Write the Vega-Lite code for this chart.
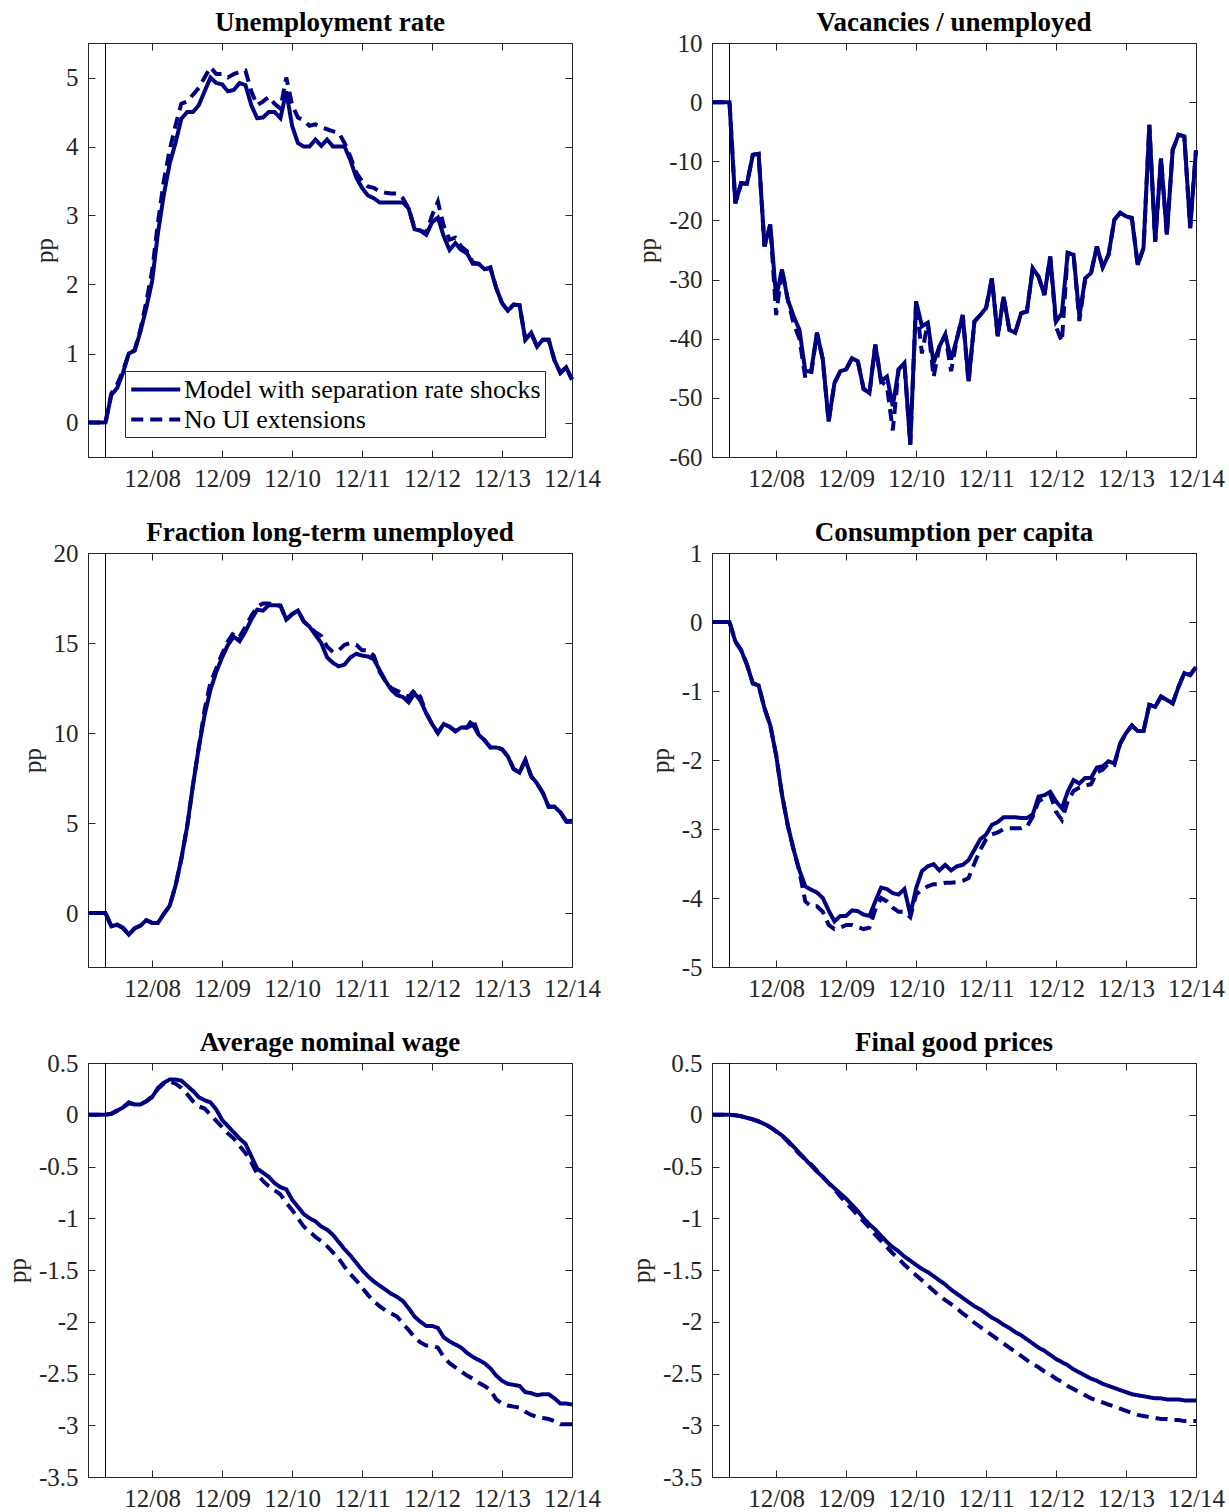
{
  "$schema": "https://vega.github.io/schema/vega-lite/v6.json",
  "background": "white",
  "padding": {"left": 4, "top": 8, "right": 0, "bottom": 0},
  "bounds": "flush",
  "columns": 2,
  "spacing": {"row": 96, "column": 140},
  "config": {
    "font": "Liberation Serif",
    "view": {"stroke": "#262626", "strokeWidth": 1},
    "axis": {"domainColor": "#262626", "tickColor": "#262626", "labelColor": "#262626", "labelFont": "Liberation Serif", "labelFontSize": 25, "titleFont": "Liberation Serif", "titleFontSize": 25, "titleFontWeight": "normal", "titleColor": "#262626", "grid": false, "tickSize": -7, "tickWidth": 1, "domainWidth": 1, "labelOverlap": false, "labelFlush": false},
    "axisX": {"labelPadding": 16},
    "axisY": {"labelPadding": 17, "titlePadding": 8},
    "title": {"font": "Liberation Serif", "fontSize": 27, "fontWeight": "bold", "color": "#000000", "anchor": "middle", "offset": -6}
  },
  "datasets": {
    "u": [
      {"m":-11,"model":0,"noext":0},{"m":-10,"model":0,"noext":0},{"m":-9,"model":0,"noext":0},{"m":-8,"model":0,"noext":0},
      {"m":-7,"model":0.40,"noext":0.42},{"m":-6,"model":0.50,"noext":0.55},{"m":-5,"model":0.72,"noext":0.75},{"m":-4,"model":1.00,"noext":1.00},
      {"m":-3,"model":1.04,"noext":1.05},{"m":-2,"model":1.32,"noext":1.35},{"m":-1,"model":1.66,"noext":1.75},{"m":0,"model":2.05,"noext":2.20},
      {"m":1,"model":2.75,"noext":2.90},{"m":2,"model":3.30,"noext":3.50},{"m":3,"model":3.75,"noext":3.95},{"m":4,"model":4.05,"noext":4.30},
      {"m":5,"model":4.40,"noext":4.62},{"m":6,"model":4.50,"noext":4.65},{"m":7,"model":4.50,"noext":4.75},{"m":8,"model":4.60,"noext":4.85},
      {"m":9,"model":4.80,"noext":5.00},{"m":10,"model":5.00,"noext":5.15},{"m":11,"model":4.92,"noext":5.05},{"m":12,"model":4.90,"noext":5.05},
      {"m":13,"model":4.80,"noext":5.00},{"m":14,"model":4.82,"noext":5.05},{"m":15,"model":4.92,"noext":5.08},{"m":16,"model":4.89,"noext":5.10},
      {"m":17,"model":4.60,"noext":4.80},{"m":18,"model":4.41,"noext":4.60},{"m":19,"model":4.42,"noext":4.65},{"m":20,"model":4.50,"noext":4.72},
      {"m":21,"model":4.50,"noext":4.62},{"m":22,"model":4.41,"noext":4.55},{"m":23,"model":4.80,"noext":5.00},{"m":24,"model":4.30,"noext":4.60},
      {"m":25,"model":4.05,"noext":4.42},{"m":26,"model":4.00,"noext":4.38},{"m":27,"model":4.00,"noext":4.30},{"m":28,"model":4.10,"noext":4.32},
      {"m":29,"model":4.01,"noext":4.28},{"m":30,"model":4.10,"noext":4.25},{"m":31,"model":4.00,"noext":4.22},{"m":32,"model":4.00,"noext":4.20},
      {"m":33,"model":4.00,"noext":4.05},{"m":34,"model":3.80,"noext":3.85},{"m":35,"model":3.55,"noext":3.62},{"m":36,"model":3.40,"noext":3.50},
      {"m":37,"model":3.29,"noext":3.42},{"m":38,"model":3.25,"noext":3.40},{"m":39,"model":3.19,"noext":3.35},{"m":40,"model":3.19,"noext":3.33},
      {"m":41,"model":3.19,"noext":3.32},{"m":42,"model":3.19,"noext":3.32},{"m":43,"model":3.19,"noext":3.25},{"m":44,"model":3.10,"noext":3.10},
      {"m":45,"model":2.80,"noext":2.82},{"m":46,"model":2.78,"noext":2.78},{"m":47,"model":2.72,"noext":2.75},{"m":48,"model":2.90,"noext":3.00},
      {"m":49,"model":2.97,"noext":3.20},{"m":50,"model":2.70,"noext":2.85},{"m":51,"model":2.50,"noext":2.65},{"m":52,"model":2.60,"noext":2.68},
      {"m":53,"model":2.50,"noext":2.55},{"m":54,"model":2.45,"noext":2.48},{"m":55,"model":2.30,"noext":2.32},{"m":56,"model":2.30,"noext":2.30},
      {"m":57,"model":2.22,"noext":2.22},{"m":58,"model":2.24,"noext":2.25},{"m":59,"model":1.95,"noext":1.95},{"m":60,"model":1.73,"noext":1.73},
      {"m":61,"model":1.62,"noext":1.62},{"m":62,"model":1.71,"noext":1.71},{"m":63,"model":1.70,"noext":1.70},{"m":64,"model":1.20,"noext":1.20},
      {"m":65,"model":1.30,"noext":1.30},{"m":66,"model":1.10,"noext":1.10},{"m":67,"model":1.20,"noext":1.20},{"m":68,"model":1.20,"noext":1.20},
      {"m":69,"model":0.90,"noext":0.90},{"m":70,"model":0.72,"noext":0.72},{"m":71,"model":0.80,"noext":0.80},{"m":72,"model":0.62,"noext":0.62}
    ],
    "vu": [
      {"m":-11,"model":0,"noext":0},{"m":-10,"model":0,"noext":0},{"m":-9,"model":0,"noext":0},{"m":-8,"model":0,"noext":0},
      {"m":-7,"model":-17.1,"noext":-17.1},{"m":-6,"model":-13.7,"noext":-13.7},{"m":-5,"model":-13.8,"noext":-13.8},{"m":-4,"model":-8.9,"noext":-8.9},
      {"m":-3,"model":-8.75,"noext":-8.75},{"m":-2,"model":-24.4,"noext":-24.4},{"m":-1,"model":-20.7,"noext":-20.7},{"m":0,"model":-33.0,"noext":-36.0},
      {"m":1,"model":-28.3,"noext":-28.3},{"m":2,"model":-33.4,"noext":-33.4},{"m":3,"model":-36.2,"noext":-37.5},{"m":4,"model":-38.5,"noext":-40.0},
      {"m":5,"model":-45.5,"noext":-46.6},{"m":6,"model":-45.5,"noext":-46.0},{"m":7,"model":-39.0,"noext":-39.0},{"m":8,"model":-43.5,"noext":-43.5},
      {"m":9,"model":-54.0,"noext":-54.0},{"m":10,"model":-47.5,"noext":-47.5},{"m":11,"model":-45.5,"noext":-45.5},{"m":12,"model":-45.2,"noext":-45.2},
      {"m":13,"model":-43.3,"noext":-43.3},{"m":14,"model":-43.8,"noext":-43.8},{"m":15,"model":-48.5,"noext":-48.5},{"m":16,"model":-49.2,"noext":-49.2},
      {"m":17,"model":-41.0,"noext":-41.0},{"m":18,"model":-47.2,"noext":-47.2},{"m":19,"model":-46.4,"noext":-48.0},{"m":20,"model":-51.4,"noext":-55.5},
      {"m":21,"model":-45.2,"noext":-45.2},{"m":22,"model":-44.1,"noext":-44.1},{"m":23,"model":-57.9,"noext":-57.9},{"m":24,"model":-33.7,"noext":-33.7},
      {"m":25,"model":-37.9,"noext":-42.5},{"m":26,"model":-37.3,"noext":-37.3},{"m":27,"model":-44.1,"noext":-46.5},{"m":28,"model":-41.3,"noext":-41.3},
      {"m":29,"model":-39.3,"noext":-39.3},{"m":30,"model":-43.5,"noext":-45.5},{"m":31,"model":-40.0,"noext":-40.0},{"m":32,"model":-36.0,"noext":-36.0},
      {"m":33,"model":-47.2,"noext":-47.5},{"m":34,"model":-37.1,"noext":-37.1},{"m":35,"model":-36.0,"noext":-36.0},{"m":36,"model":-34.8,"noext":-34.8},
      {"m":37,"model":-29.8,"noext":-29.8},{"m":38,"model":-39.6,"noext":-39.6},{"m":39,"model":-32.9,"noext":-32.9},{"m":40,"model":-38.5,"noext":-38.5},
      {"m":41,"model":-39.0,"noext":-39.0},{"m":42,"model":-35.7,"noext":-35.7},{"m":43,"model":-35.4,"noext":-35.4},{"m":44,"model":-28.1,"noext":-28.1},
      {"m":45,"model":-29.5,"noext":-29.5},{"m":46,"model":-32.6,"noext":-32.6},{"m":47,"model":-26.1,"noext":-26.1},{"m":48,"model":-37.1,"noext":-38.0},
      {"m":49,"model":-35.7,"noext":-40.5},{"m":50,"model":-25.5,"noext":-25.5},{"m":51,"model":-25.8,"noext":-25.8},{"m":52,"model":-36.2,"noext":-37.0},
      {"m":53,"model":-29.8,"noext":-29.8},{"m":54,"model":-28.9,"noext":-28.9},{"m":55,"model":-24.4,"noext":-24.4},{"m":56,"model":-27.9,"noext":-27.9},
      {"m":57,"model":-25.8,"noext":-25.8},{"m":58,"model":-19.9,"noext":-19.9},{"m":59,"model":-18.7,"noext":-18.7},{"m":60,"model":-19.3,"noext":-19.3},
      {"m":61,"model":-19.6,"noext":-19.6},{"m":62,"model":-27.5,"noext":-27.5},{"m":63,"model":-24.7,"noext":-24.7},{"m":64,"model":-3.85,"noext":-3.85},
      {"m":65,"model":-23.6,"noext":-23.6},{"m":66,"model":-9.5,"noext":-9.5},{"m":67,"model":-22.4,"noext":-22.4},{"m":68,"model":-8.1,"noext":-8.1},
      {"m":69,"model":-5.5,"noext":-5.5},{"m":70,"model":-5.8,"noext":-5.8},{"m":71,"model":-21.3,"noext":-21.3},{"m":72,"model":-8.1,"noext":-8.1}
    ],
    "lt": [
      {"m":-11,"model":0,"noext":0},{"m":-10,"model":0,"noext":0},{"m":-9,"model":0,"noext":0},{"m":-8,"model":0,"noext":0},
      {"m":-7,"model":-0.74,"noext":-0.74},{"m":-6,"model":-0.65,"noext":-0.65},{"m":-5,"model":-0.83,"noext":-0.83},{"m":-4,"model":-1.20,"noext":-1.20},
      {"m":-3,"model":-0.85,"noext":-0.85},{"m":-2,"model":-0.70,"noext":-0.70},{"m":-1,"model":-0.40,"noext":-0.40},{"m":0,"model":-0.55,"noext":-0.55},
      {"m":1,"model":-0.55,"noext":-0.55},{"m":2,"model":-0.05,"noext":-0.05},{"m":3,"model":0.40,"noext":0.40},{"m":4,"model":1.50,"noext":1.50},
      {"m":5,"model":3.00,"noext":3.00},{"m":6,"model":4.80,"noext":4.80},{"m":7,"model":7.10,"noext":7.10},{"m":8,"model":9.20,"noext":9.20},
      {"m":9,"model":11.00,"noext":11.30},{"m":10,"model":12.40,"noext":12.80},{"m":11,"model":13.40,"noext":13.60},{"m":12,"model":14.20,"noext":14.40},
      {"m":13,"model":14.90,"noext":15.10},{"m":14,"model":15.35,"noext":15.60},{"m":15,"model":15.10,"noext":15.35},{"m":16,"model":15.65,"noext":15.90},
      {"m":17,"model":16.30,"noext":16.50},{"m":18,"model":16.85,"noext":17.00},{"m":19,"model":16.80,"noext":17.20},{"m":20,"model":17.10,"noext":17.20},
      {"m":21,"model":17.10,"noext":17.10},{"m":22,"model":17.08,"noext":17.08},{"m":23,"model":16.30,"noext":16.30},{"m":24,"model":16.60,"noext":16.60},
      {"m":25,"model":16.80,"noext":16.80},{"m":26,"model":16.20,"noext":16.20},{"m":27,"model":15.90,"noext":15.90},{"m":28,"model":15.45,"noext":15.60},
      {"m":29,"model":15.00,"noext":15.40},{"m":30,"model":14.20,"noext":14.80},{"m":31,"model":13.90,"noext":14.50},{"m":32,"model":13.70,"noext":14.60},
      {"m":33,"model":13.80,"noext":14.90},{"m":34,"model":14.20,"noext":15.00},{"m":35,"model":14.40,"noext":14.90},{"m":36,"model":14.30,"noext":14.60},
      {"m":37,"model":14.25,"noext":14.60},{"m":38,"model":14.10,"noext":14.30},{"m":39,"model":13.50,"noext":13.40},{"m":40,"model":12.90,"noext":12.90},
      {"m":41,"model":12.40,"noext":12.50},{"m":42,"model":12.10,"noext":12.35},{"m":43,"model":12.00,"noext":12.20},{"m":44,"model":11.70,"noext":12.00},
      {"m":45,"model":12.20,"noext":12.40},{"m":46,"model":11.80,"noext":12.00},{"m":47,"model":11.10,"noext":11.10},{"m":48,"model":10.50,"noext":10.50},
      {"m":49,"model":10.00,"noext":10.00},{"m":50,"model":10.50,"noext":10.50},{"m":51,"model":10.35,"noext":10.35},{"m":52,"model":10.10,"noext":10.10},
      {"m":53,"model":10.30,"noext":10.30},{"m":54,"model":10.30,"noext":10.30},{"m":55,"model":10.46,"noext":10.80},{"m":56,"model":9.90,"noext":9.90},
      {"m":57,"model":9.60,"noext":9.60},{"m":58,"model":9.20,"noext":9.20},{"m":59,"model":9.20,"noext":9.20},{"m":60,"model":9.10,"noext":9.10},
      {"m":61,"model":8.70,"noext":8.70},{"m":62,"model":8.00,"noext":8.00},{"m":63,"model":7.80,"noext":7.80},{"m":64,"model":8.50,"noext":8.50},
      {"m":65,"model":7.60,"noext":7.60},{"m":66,"model":7.20,"noext":7.20},{"m":67,"model":6.67,"noext":6.67},{"m":68,"model":5.90,"noext":5.90},
      {"m":69,"model":5.90,"noext":5.90},{"m":70,"model":5.60,"noext":5.60},{"m":71,"model":5.10,"noext":5.10},{"m":72,"model":5.13,"noext":5.13}
    ],
    "c": [
      {"m":-11,"model":0,"noext":0},{"m":-10,"model":0,"noext":0},{"m":-9,"model":0,"noext":0},{"m":-8,"model":0,"noext":0},
      {"m":-7,"model":-0.28,"noext":-0.28},{"m":-6,"model":-0.41,"noext":-0.41},{"m":-5,"model":-0.62,"noext":-0.62},{"m":-4,"model":-0.89,"noext":-0.89},
      {"m":-3,"model":-0.92,"noext":-0.92},{"m":-2,"model":-1.25,"noext":-1.25},{"m":-1,"model":-1.50,"noext":-1.50},{"m":0,"model":-1.93,"noext":-1.93},
      {"m":1,"model":-2.50,"noext":-2.50},{"m":2,"model":-2.95,"noext":-2.95},{"m":3,"model":-3.30,"noext":-3.30},{"m":4,"model":-3.60,"noext":-3.62},
      {"m":5,"model":-3.83,"noext":-4.05},{"m":6,"model":-3.88,"noext":-4.12},{"m":7,"model":-3.92,"noext":-4.12},{"m":8,"model":-4.00,"noext":-4.20},
      {"m":9,"model":-4.18,"noext":-4.39},{"m":10,"model":-4.34,"noext":-4.45},{"m":11,"model":-4.26,"noext":-4.43},{"m":12,"model":-4.26,"noext":-4.39},
      {"m":13,"model":-4.18,"noext":-4.39},{"m":14,"model":-4.19,"noext":-4.42},{"m":15,"model":-4.24,"noext":-4.45},{"m":16,"model":-4.26,"noext":-4.43},
      {"m":17,"model":-4.05,"noext":-4.17},{"m":18,"model":-3.85,"noext":-4.00},{"m":19,"model":-3.87,"noext":-4.05},{"m":20,"model":-3.93,"noext":-4.14},
      {"m":21,"model":-3.95,"noext":-4.20},{"m":22,"model":-3.87,"noext":-4.20},{"m":23,"model":-4.24,"noext":-4.28},{"m":24,"model":-3.86,"noext":-3.95},
      {"m":25,"model":-3.61,"noext":-3.88},{"m":26,"model":-3.54,"noext":-3.83},{"m":27,"model":-3.51,"noext":-3.80},{"m":28,"model":-3.60,"noext":-3.80},
      {"m":29,"model":-3.52,"noext":-3.78},{"m":30,"model":-3.60,"noext":-3.78},{"m":31,"model":-3.54,"noext":-3.77},{"m":32,"model":-3.52,"noext":-3.75},
      {"m":33,"model":-3.45,"noext":-3.71},{"m":34,"model":-3.30,"noext":-3.50},{"m":35,"model":-3.15,"noext":-3.30},{"m":36,"model":-3.08,"noext":-3.15},
      {"m":37,"model":-2.94,"noext":-3.08},{"m":38,"model":-2.90,"noext":-3.05},{"m":39,"model":-2.83,"noext":-3.00},{"m":40,"model":-2.83,"noext":-2.99},
      {"m":41,"model":-2.83,"noext":-2.99},{"m":42,"model":-2.84,"noext":-2.99},{"m":43,"model":-2.84,"noext":-2.97},{"m":44,"model":-2.79,"noext":-2.82},
      {"m":45,"model":-2.53,"noext":-2.60},{"m":46,"model":-2.51,"noext":-2.55},{"m":47,"model":-2.46,"noext":-2.50},{"m":48,"model":-2.60,"noext":-2.75},
      {"m":49,"model":-2.70,"noext":-2.87},{"m":50,"model":-2.46,"noext":-2.60},{"m":51,"model":-2.29,"noext":-2.45},{"m":52,"model":-2.34,"noext":-2.40},
      {"m":53,"model":-2.26,"noext":-2.37},{"m":54,"model":-2.26,"noext":-2.35},{"m":55,"model":-2.11,"noext":-2.18},{"m":56,"model":-2.09,"noext":-2.14},
      {"m":57,"model":-2.02,"noext":-2.05},{"m":58,"model":-2.05,"noext":-2.07},{"m":59,"model":-1.76,"noext":-1.76},{"m":60,"model":-1.61,"noext":-1.61},
      {"m":61,"model":-1.50,"noext":-1.50},{"m":62,"model":-1.58,"noext":-1.58},{"m":63,"model":-1.58,"noext":-1.58},{"m":64,"model":-1.20,"noext":-1.20},
      {"m":65,"model":-1.23,"noext":-1.23},{"m":66,"model":-1.08,"noext":-1.08},{"m":67,"model":-1.13,"noext":-1.13},{"m":68,"model":-1.18,"noext":-1.18},
      {"m":69,"model":-0.94,"noext":-0.94},{"m":70,"model":-0.74,"noext":-0.74},{"m":71,"model":-0.77,"noext":-0.77},{"m":72,"model":-0.65,"noext":-0.65}
    ],
    "w": [
      {"m":-11,"model":0,"noext":0},{"m":-10,"model":0,"noext":0},{"m":-9,"model":0,"noext":0},{"m":-8,"model":0,"noext":0},
      {"m":-7,"model":0.01,"noext":0.01},{"m":-6,"model":0.04,"noext":0.04},{"m":-5,"model":0.07,"noext":0.07},{"m":-4,"model":0.12,"noext":0.11},
      {"m":-3,"model":0.10,"noext":0.10},{"m":-2,"model":0.10,"noext":0.10},{"m":-1,"model":0.13,"noext":0.13},{"m":0,"model":0.17,"noext":0.18},
      {"m":1,"model":0.26,"noext":0.25},{"m":2,"model":0.31,"noext":0.30},{"m":3,"model":0.34,"noext":0.32},{"m":4,"model":0.34,"noext":0.30},
      {"m":5,"model":0.33,"noext":0.26},{"m":6,"model":0.28,"noext":0.20},{"m":7,"model":0.23,"noext":0.13},{"m":8,"model":0.17,"noext":0.08},
      {"m":9,"model":0.14,"noext":0.06},{"m":10,"model":0.12,"noext":0.00},{"m":11,"model":0.05,"noext":-0.06},{"m":12,"model":-0.05,"noext":-0.12},
      {"m":13,"model":-0.11,"noext":-0.18},{"m":14,"model":-0.17,"noext":-0.23},{"m":15,"model":-0.23,"noext":-0.30},{"m":16,"model":-0.28,"noext":-0.37},
      {"m":17,"model":-0.40,"noext":-0.46},{"m":18,"model":-0.52,"noext":-0.57},{"m":19,"model":-0.56,"noext":-0.64},{"m":20,"model":-0.60,"noext":-0.69},
      {"m":21,"model":-0.66,"noext":-0.73},{"m":22,"model":-0.70,"noext":-0.77},{"m":23,"model":-0.72,"noext":-0.85},{"m":24,"model":-0.82,"noext":-0.92},
      {"m":25,"model":-0.89,"noext":-1.00},{"m":26,"model":-0.96,"noext":-1.08},{"m":27,"model":-1.00,"noext":-1.13},{"m":28,"model":-1.03,"noext":-1.18},
      {"m":29,"model":-1.08,"noext":-1.22},{"m":30,"model":-1.11,"noext":-1.27},{"m":31,"model":-1.16,"noext":-1.33},{"m":32,"model":-1.23,"noext":-1.39},
      {"m":33,"model":-1.30,"noext":-1.47},{"m":34,"model":-1.36,"noext":-1.54},{"m":35,"model":-1.43,"noext":-1.60},{"m":36,"model":-1.50,"noext":-1.67},
      {"m":37,"model":-1.56,"noext":-1.74},{"m":38,"model":-1.61,"noext":-1.80},{"m":39,"model":-1.65,"noext":-1.85},{"m":40,"model":-1.69,"noext":-1.89},
      {"m":41,"model":-1.73,"noext":-1.92},{"m":42,"model":-1.76,"noext":-1.95},{"m":43,"model":-1.80,"noext":-2.02},{"m":44,"model":-1.87,"noext":-2.08},
      {"m":45,"model":-1.95,"noext":-2.15},{"m":46,"model":-2.00,"noext":-2.20},{"m":47,"model":-2.04,"noext":-2.23},{"m":48,"model":-2.04,"noext":-2.23},
      {"m":49,"model":-2.06,"noext":-2.25},{"m":50,"model":-2.15,"noext":-2.34},{"m":51,"model":-2.19,"noext":-2.40},{"m":52,"model":-2.22,"noext":-2.44},
      {"m":53,"model":-2.25,"noext":-2.48},{"m":54,"model":-2.30,"noext":-2.52},{"m":55,"model":-2.34,"noext":-2.55},{"m":56,"model":-2.37,"noext":-2.59},
      {"m":57,"model":-2.40,"noext":-2.62},{"m":58,"model":-2.45,"noext":-2.66},{"m":59,"model":-2.52,"noext":-2.75},{"m":60,"model":-2.57,"noext":-2.79},
      {"m":61,"model":-2.60,"noext":-2.81},{"m":62,"model":-2.61,"noext":-2.82},{"m":63,"model":-2.62,"noext":-2.83},{"m":64,"model":-2.68,"noext":-2.87},
      {"m":65,"model":-2.69,"noext":-2.90},{"m":66,"model":-2.71,"noext":-2.92},{"m":67,"model":-2.70,"noext":-2.93},{"m":68,"model":-2.70,"noext":-2.94},
      {"m":69,"model":-2.74,"noext":-2.96},{"m":70,"model":-2.79,"noext":-2.99},{"m":71,"model":-2.79,"noext":-2.99},{"m":72,"model":-2.80,"noext":-2.99}
    ],
    "pr": [
      {"m":-11,"model":0,"noext":0},{"m":-10,"model":0,"noext":0},{"m":-9,"model":0,"noext":0},{"m":-8,"model":0,"noext":0},
      {"m":-7,"model":-0.005,"noext":-0.005},{"m":-6,"model":-0.015,"noext":-0.015},{"m":-5,"model":-0.03,"noext":-0.03},{"m":-4,"model":-0.045,"noext":-0.045},
      {"m":-3,"model":-0.065,"noext":-0.065},{"m":-2,"model":-0.09,"noext":-0.09},{"m":-1,"model":-0.12,"noext":-0.12},{"m":0,"model":-0.16,"noext":-0.16},
      {"m":1,"model":-0.20,"noext":-0.20},{"m":2,"model":-0.25,"noext":-0.26},{"m":3,"model":-0.31,"noext":-0.32},{"m":4,"model":-0.37,"noext":-0.38},
      {"m":5,"model":-0.43,"noext":-0.43},{"m":6,"model":-0.49,"noext":-0.48},{"m":7,"model":-0.55,"noext":-0.54},{"m":8,"model":-0.60,"noext":-0.60},
      {"m":9,"model":-0.66,"noext":-0.66},{"m":10,"model":-0.71,"noext":-0.72},{"m":11,"model":-0.76,"noext":-0.79},{"m":12,"model":-0.81,"noext":-0.85},
      {"m":13,"model":-0.87,"noext":-0.91},{"m":14,"model":-0.93,"noext":-0.97},{"m":15,"model":-1.00,"noext":-1.03},{"m":16,"model":-1.06,"noext":-1.09},
      {"m":17,"model":-1.11,"noext":-1.16},{"m":18,"model":-1.17,"noext":-1.22},{"m":19,"model":-1.23,"noext":-1.28},{"m":20,"model":-1.28,"noext":-1.34},
      {"m":21,"model":-1.32,"noext":-1.39},{"m":22,"model":-1.37,"noext":-1.45},{"m":23,"model":-1.41,"noext":-1.50},{"m":24,"model":-1.45,"noext":-1.55},
      {"m":25,"model":-1.49,"noext":-1.60},{"m":26,"model":-1.52,"noext":-1.65},{"m":27,"model":-1.56,"noext":-1.70},{"m":28,"model":-1.60,"noext":-1.75},
      {"m":29,"model":-1.64,"noext":-1.79},{"m":30,"model":-1.69,"noext":-1.83},{"m":31,"model":-1.73,"noext":-1.87},{"m":32,"model":-1.77,"noext":-1.92},
      {"m":33,"model":-1.81,"noext":-1.96},{"m":34,"model":-1.85,"noext":-2.01},{"m":35,"model":-1.88,"noext":-2.05},{"m":36,"model":-1.92,"noext":-2.09},
      {"m":37,"model":-1.96,"noext":-2.13},{"m":38,"model":-1.99,"noext":-2.17},{"m":39,"model":-2.03,"noext":-2.21},{"m":40,"model":-2.06,"noext":-2.25},
      {"m":41,"model":-2.10,"noext":-2.29},{"m":42,"model":-2.13,"noext":-2.33},{"m":43,"model":-2.17,"noext":-2.37},{"m":44,"model":-2.21,"noext":-2.41},
      {"m":45,"model":-2.25,"noext":-2.44},{"m":46,"model":-2.28,"noext":-2.48},{"m":47,"model":-2.32,"noext":-2.51},{"m":48,"model":-2.36,"noext":-2.55},
      {"m":49,"model":-2.39,"noext":-2.58},{"m":50,"model":-2.42,"noext":-2.62},{"m":51,"model":-2.46,"noext":-2.65},{"m":52,"model":-2.49,"noext":-2.68},
      {"m":53,"model":-2.52,"noext":-2.71},{"m":54,"model":-2.55,"noext":-2.74},{"m":55,"model":-2.57,"noext":-2.76},{"m":56,"model":-2.60,"noext":-2.78},
      {"m":57,"model":-2.62,"noext":-2.80},{"m":58,"model":-2.64,"noext":-2.82},{"m":59,"model":-2.66,"noext":-2.84},{"m":60,"model":-2.68,"noext":-2.86},
      {"m":61,"model":-2.70,"noext":-2.88},{"m":62,"model":-2.71,"noext":-2.90},{"m":63,"model":-2.72,"noext":-2.91},{"m":64,"model":-2.73,"noext":-2.92},
      {"m":65,"model":-2.74,"noext":-2.93},{"m":66,"model":-2.74,"noext":-2.94},{"m":67,"model":-2.75,"noext":-2.94},{"m":68,"model":-2.75,"noext":-2.95},
      {"m":69,"model":-2.75,"noext":-2.95},{"m":70,"model":-2.76,"noext":-2.96},{"m":71,"model":-2.76,"noext":-2.96},{"m":72,"model":-2.76,"noext":-2.96}
    ],
    "shock": [{"m": -8}]
  },
  "resolve": {"scale": {"strokeDash": "independent"}, "legend": {"strokeDash": "independent"}},
  "concat": [
    {
      "title": {"text": "Unemployment rate", "offset": 6}, "width": 484, "height": 414,
      "layer": [
        {"data": {"name": "shock"}, "mark": {"type": "rule", "color": "black", "strokeWidth": 1},
         "encoding": {"x": {"field": "m", "type": "quantitative", "scale": {"domain": [-11, 72], "nice": false, "zero": false}, "axis": null}}},
        {"data": {"name": "u"}, "transform": [{"fold": ["model", "noext"], "as": ["series", "value"]}],
         "mark": {"type": "line", "color": "#000080", "strokeWidth": 4},
         "encoding": {
           "x": {"field": "m", "type": "quantitative", "scale": {"domain": [-11, 72], "nice": false, "zero": false}, "axis": {"values": [0, 12, 24, 36, 48, 60, 72], "labelExpr": "'12/' + format(8 + datum.value / 12, '02d')", "title": null}},
           "y": {"field": "value", "type": "quantitative", "scale": {"domain": [-0.5, 5.5], "nice": false, "zero": false}, "axis": {"values": [0, 1, 2, 3, 4, 5], "labelExpr": "datum.value < 0 ? '-' + format(-datum.value, '') : format(datum.value, '')", "title": "pp"}},
           "strokeDash": {"field": "series", "type": "nominal", "scale": {"domain": ["model", "noext"], "range": [[1, 0], [12, 7]]},
             "legend": {"orient": "none", "legendX": 37, "legendY": 328, "title": null, "labelExpr": "datum.label == 'model' ? 'Model with separation rate shocks' : 'No UI extensions'", "strokeColor": "#262626", "fillColor": "white", "padding": 4, "labelFont": "Liberation Serif", "labelFontSize": 26, "labelColor": "#000000", "labelLimit": 0, "symbolType": "M-1,0H3", "symbolSize": 600, "symbolStrokeWidth": 4, "symbolStrokeColor": "#000080", "symbolFillColor": "transparent", "labelOffset": 26, "rowPadding": 2}}
         }},
        {"data": {"name": "u"}, "transform": [{"fold": ["model", "noext"], "as": ["series", "value"]}],
         "mark": {"type": "line", "opacity": 0},
         "encoding": {
           "x": {"field": "m", "type": "quantitative", "scale": {"domain": [-11, 72], "nice": false, "zero": false}, "axis": {"orient": "top", "values": [0, 12, 24, 36, 48, 60, 72], "labels": false, "title": null}},
           "y": {"field": "value", "type": "quantitative", "scale": {"domain": [-0.5, 5.5], "nice": false, "zero": false}, "axis": {"orient": "right", "values": [0, 1, 2, 3, 4, 5], "labels": false, "title": null}}
         }}
      ],
      "resolve": {"axis": {"x": "independent", "y": "independent"}}
    },
    {
      "title": "Vacancies / unemployed", "width": 484, "height": 414,
      "layer": [
        {"data": {"name": "shock"}, "mark": {"type": "rule", "color": "black", "strokeWidth": 1},
         "encoding": {"x": {"field": "m", "type": "quantitative", "scale": {"domain": [-11, 72], "nice": false, "zero": false}, "axis": null}}},
        {"data": {"name": "vu"}, "transform": [{"fold": ["model", "noext"], "as": ["series", "value"]}],
         "mark": {"type": "line", "color": "#000080", "strokeWidth": 4},
         "encoding": {
           "x": {"field": "m", "type": "quantitative", "scale": {"domain": [-11, 72], "nice": false, "zero": false}, "axis": {"values": [0, 12, 24, 36, 48, 60, 72], "labelExpr": "'12/' + format(8 + datum.value / 12, '02d')", "title": null}},
           "y": {"field": "value", "type": "quantitative", "scale": {"domain": [-60, 10], "nice": false, "zero": false}, "axis": {"values": [-60, -50, -40, -30, -20, -10, 0, 10], "labelExpr": "datum.value < 0 ? '-' + format(-datum.value, '') : format(datum.value, '')", "title": "pp"}},
           "strokeDash": {"field": "series", "type": "nominal", "scale": {"domain": ["model", "noext"], "range": [[1, 0], [12, 7]]}, "legend": null}
         }},
        {"data": {"name": "vu"}, "transform": [{"fold": ["model", "noext"], "as": ["series", "value"]}],
         "mark": {"type": "line", "opacity": 0},
         "encoding": {
           "x": {"field": "m", "type": "quantitative", "scale": {"domain": [-11, 72], "nice": false, "zero": false}, "axis": {"orient": "top", "values": [0, 12, 24, 36, 48, 60, 72], "labels": false, "title": null}},
           "y": {"field": "value", "type": "quantitative", "scale": {"domain": [-60, 10], "nice": false, "zero": false}, "axis": {"orient": "right", "values": [-60, -50, -40, -30, -20, -10, 0, 10], "labels": false, "title": null}}
         }}
      ],
      "resolve": {"axis": {"x": "independent", "y": "independent"}}
    },
    {
      "title": "Fraction long-term unemployed", "width": 484, "height": 414,
      "layer": [
        {"data": {"name": "shock"}, "mark": {"type": "rule", "color": "black", "strokeWidth": 1},
         "encoding": {"x": {"field": "m", "type": "quantitative", "scale": {"domain": [-11, 72], "nice": false, "zero": false}, "axis": null}}},
        {"data": {"name": "lt"}, "transform": [{"fold": ["model", "noext"], "as": ["series", "value"]}],
         "mark": {"type": "line", "color": "#000080", "strokeWidth": 4},
         "encoding": {
           "x": {"field": "m", "type": "quantitative", "scale": {"domain": [-11, 72], "nice": false, "zero": false}, "axis": {"values": [0, 12, 24, 36, 48, 60, 72], "labelExpr": "'12/' + format(8 + datum.value / 12, '02d')", "title": null}},
           "y": {"field": "value", "type": "quantitative", "scale": {"domain": [-3, 20], "nice": false, "zero": false}, "axis": {"values": [0, 5, 10, 15, 20], "labelExpr": "datum.value < 0 ? '-' + format(-datum.value, '') : format(datum.value, '')", "title": "pp"}},
           "strokeDash": {"field": "series", "type": "nominal", "scale": {"domain": ["model", "noext"], "range": [[1, 0], [12, 7]]}, "legend": null}
         }},
        {"data": {"name": "lt"}, "transform": [{"fold": ["model", "noext"], "as": ["series", "value"]}],
         "mark": {"type": "line", "opacity": 0},
         "encoding": {
           "x": {"field": "m", "type": "quantitative", "scale": {"domain": [-11, 72], "nice": false, "zero": false}, "axis": {"orient": "top", "values": [0, 12, 24, 36, 48, 60, 72], "labels": false, "title": null}},
           "y": {"field": "value", "type": "quantitative", "scale": {"domain": [-3, 20], "nice": false, "zero": false}, "axis": {"orient": "right", "values": [0, 5, 10, 15, 20], "labels": false, "title": null}}
         }}
      ],
      "resolve": {"axis": {"x": "independent", "y": "independent"}}
    },
    {
      "title": "Consumption per capita", "width": 484, "height": 414,
      "layer": [
        {"data": {"name": "shock"}, "mark": {"type": "rule", "color": "black", "strokeWidth": 1},
         "encoding": {"x": {"field": "m", "type": "quantitative", "scale": {"domain": [-11, 72], "nice": false, "zero": false}, "axis": null}}},
        {"data": {"name": "c"}, "transform": [{"fold": ["model", "noext"], "as": ["series", "value"]}],
         "mark": {"type": "line", "color": "#000080", "strokeWidth": 4},
         "encoding": {
           "x": {"field": "m", "type": "quantitative", "scale": {"domain": [-11, 72], "nice": false, "zero": false}, "axis": {"values": [0, 12, 24, 36, 48, 60, 72], "labelExpr": "'12/' + format(8 + datum.value / 12, '02d')", "title": null}},
           "y": {"field": "value", "type": "quantitative", "scale": {"domain": [-5, 1], "nice": false, "zero": false}, "axis": {"values": [-5, -4, -3, -2, -1, 0, 1], "labelExpr": "datum.value < 0 ? '-' + format(-datum.value, '') : format(datum.value, '')", "title": "pp"}},
           "strokeDash": {"field": "series", "type": "nominal", "scale": {"domain": ["model", "noext"], "range": [[1, 0], [12, 7]]}, "legend": null}
         }},
        {"data": {"name": "c"}, "transform": [{"fold": ["model", "noext"], "as": ["series", "value"]}],
         "mark": {"type": "line", "opacity": 0},
         "encoding": {
           "x": {"field": "m", "type": "quantitative", "scale": {"domain": [-11, 72], "nice": false, "zero": false}, "axis": {"orient": "top", "values": [0, 12, 24, 36, 48, 60, 72], "labels": false, "title": null}},
           "y": {"field": "value", "type": "quantitative", "scale": {"domain": [-5, 1], "nice": false, "zero": false}, "axis": {"orient": "right", "values": [-5, -4, -3, -2, -1, 0, 1], "labels": false, "title": null}}
         }}
      ],
      "resolve": {"axis": {"x": "independent", "y": "independent"}}
    },
    {
      "title": "Average nominal wage", "width": 484, "height": 414,
      "layer": [
        {"data": {"name": "shock"}, "mark": {"type": "rule", "color": "black", "strokeWidth": 1},
         "encoding": {"x": {"field": "m", "type": "quantitative", "scale": {"domain": [-11, 72], "nice": false, "zero": false}, "axis": null}}},
        {"data": {"name": "w"}, "transform": [{"fold": ["model", "noext"], "as": ["series", "value"]}],
         "mark": {"type": "line", "color": "#000080", "strokeWidth": 4},
         "encoding": {
           "x": {"field": "m", "type": "quantitative", "scale": {"domain": [-11, 72], "nice": false, "zero": false}, "axis": {"values": [0, 12, 24, 36, 48, 60, 72], "labelExpr": "'12/' + format(8 + datum.value / 12, '02d')", "title": null}},
           "y": {"field": "value", "type": "quantitative", "scale": {"domain": [-3.5, 0.5], "nice": false, "zero": false}, "axis": {"values": [-3.5, -3, -2.5, -2, -1.5, -1, -0.5, 0, 0.5], "labelExpr": "datum.value < 0 ? '-' + format(-datum.value, '') : format(datum.value, '')", "title": "pp"}},
           "strokeDash": {"field": "series", "type": "nominal", "scale": {"domain": ["model", "noext"], "range": [[1, 0], [12, 7]]}, "legend": null}
         }},
        {"data": {"name": "w"}, "transform": [{"fold": ["model", "noext"], "as": ["series", "value"]}],
         "mark": {"type": "line", "opacity": 0},
         "encoding": {
           "x": {"field": "m", "type": "quantitative", "scale": {"domain": [-11, 72], "nice": false, "zero": false}, "axis": {"orient": "top", "values": [0, 12, 24, 36, 48, 60, 72], "labels": false, "title": null}},
           "y": {"field": "value", "type": "quantitative", "scale": {"domain": [-3.5, 0.5], "nice": false, "zero": false}, "axis": {"orient": "right", "values": [-3.5, -3, -2.5, -2, -1.5, -1, -0.5, 0, 0.5], "labels": false, "title": null}}
         }}
      ],
      "resolve": {"axis": {"x": "independent", "y": "independent"}}
    },
    {
      "title": "Final good prices", "width": 484, "height": 414,
      "layer": [
        {"data": {"name": "shock"}, "mark": {"type": "rule", "color": "black", "strokeWidth": 1},
         "encoding": {"x": {"field": "m", "type": "quantitative", "scale": {"domain": [-11, 72], "nice": false, "zero": false}, "axis": null}}},
        {"data": {"name": "pr"}, "transform": [{"fold": ["model", "noext"], "as": ["series", "value"]}],
         "mark": {"type": "line", "color": "#000080", "strokeWidth": 4},
         "encoding": {
           "x": {"field": "m", "type": "quantitative", "scale": {"domain": [-11, 72], "nice": false, "zero": false}, "axis": {"values": [0, 12, 24, 36, 48, 60, 72], "labelExpr": "'12/' + format(8 + datum.value / 12, '02d')", "title": null}},
           "y": {"field": "value", "type": "quantitative", "scale": {"domain": [-3.5, 0.5], "nice": false, "zero": false}, "axis": {"values": [-3.5, -3, -2.5, -2, -1.5, -1, -0.5, 0, 0.5], "labelExpr": "datum.value < 0 ? '-' + format(-datum.value, '') : format(datum.value, '')", "title": "pp"}},
           "strokeDash": {"field": "series", "type": "nominal", "scale": {"domain": ["model", "noext"], "range": [[1, 0], [12, 7]]}, "legend": null}
         }},
        {"data": {"name": "pr"}, "transform": [{"fold": ["model", "noext"], "as": ["series", "value"]}],
         "mark": {"type": "line", "opacity": 0},
         "encoding": {
           "x": {"field": "m", "type": "quantitative", "scale": {"domain": [-11, 72], "nice": false, "zero": false}, "axis": {"orient": "top", "values": [0, 12, 24, 36, 48, 60, 72], "labels": false, "title": null}},
           "y": {"field": "value", "type": "quantitative", "scale": {"domain": [-3.5, 0.5], "nice": false, "zero": false}, "axis": {"orient": "right", "values": [-3.5, -3, -2.5, -2, -1.5, -1, -0.5, 0, 0.5], "labels": false, "title": null}}
         }}
      ],
      "resolve": {"axis": {"x": "independent", "y": "independent"}}
    }
  ]
}
